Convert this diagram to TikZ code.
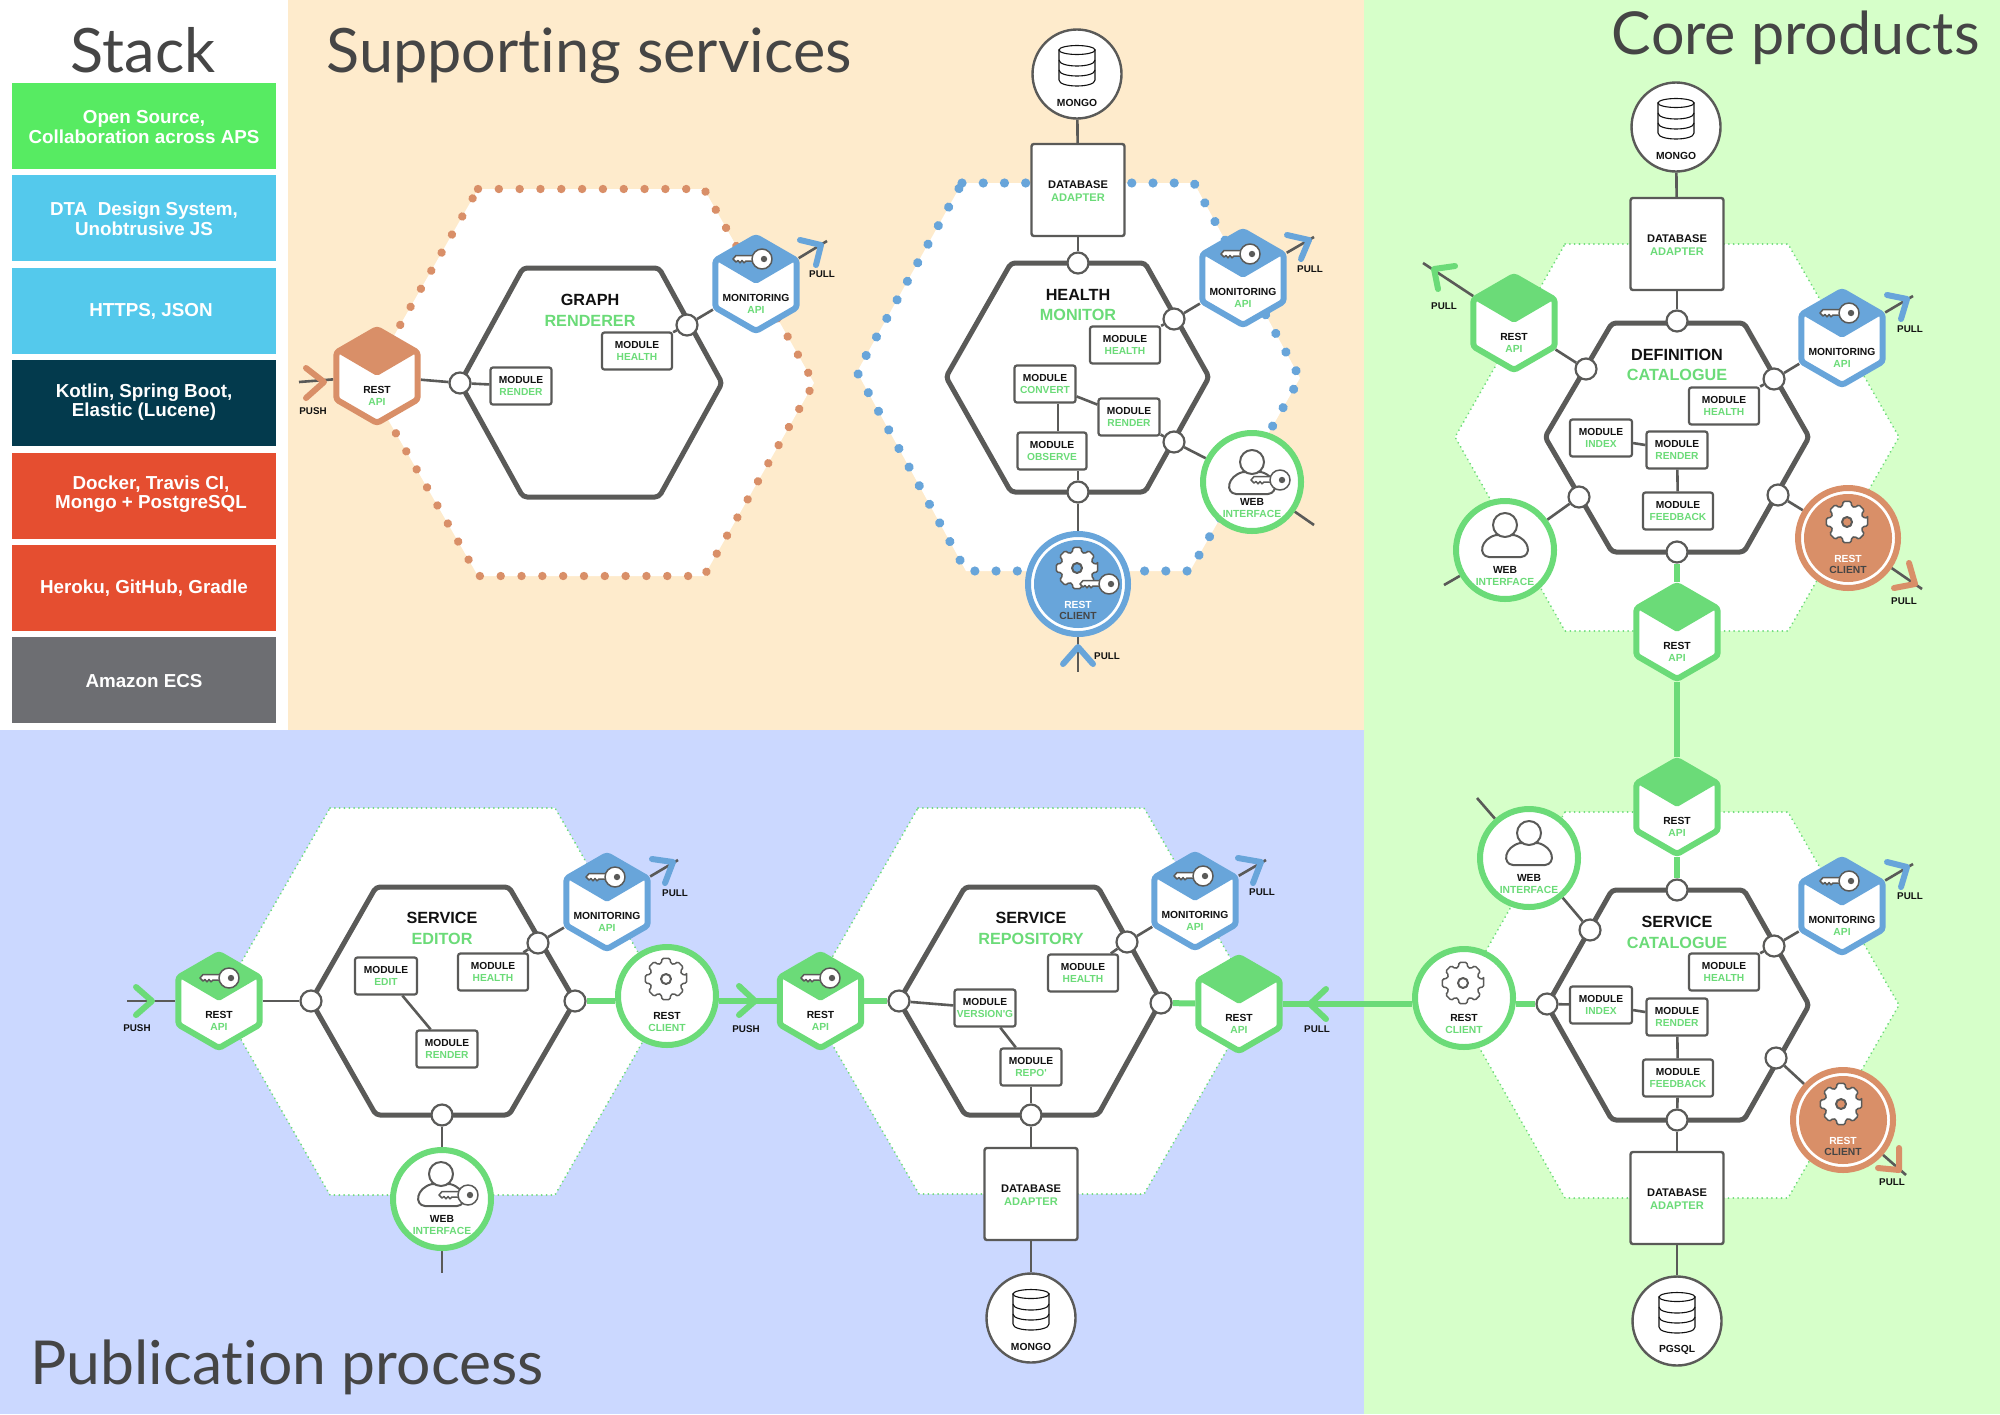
\documentclass[tikz,border=0pt]{standalone}
\usepackage{fontspec}
\setmainfont{Liberation Sans}
\newfontfamily\titlefont[Ligatures=NoCommon]{Lato}
\usetikzlibrary{shapes.geometric}
\definecolor{ink}{HTML}{111111}
\definecolor{wirec}{HTML}{5A5A58}
\definecolor{ttlc}{HTML}{454545}
\definecolor{ngreen}{HTML}{6BDB78}
\definecolor{nblue}{HTML}{68A5DA}
\definecolor{norange}{HTML}{D98F68}
\definecolor{bgorange}{HTML}{FEEBCC}
\definecolor{bggreen}{HTML}{D6FFC9}
\definecolor{bgblue}{HTML}{CBD8FF}
\definecolor{sgreen}{HTML}{57EB62}
\definecolor{sblue}{HTML}{54C9EC}
\definecolor{sdark}{HTML}{033A4D}
\definecolor{sred}{HTML}{E54E30}
\definecolor{sgray}{HTML}{6D6E72}
\pgfdeclarelayer{panel}
\pgfdeclarelayer{conn}
\pgfsetlayers{panel,conn,main}
\tikzset{
  x=0.5pt,y=-0.5pt,
  lbl/.style={font=\bfseries\fontsize{5.15}{5.6}\selectfont,inner sep=0pt,align=center,yshift=-.5pt},
  dblbl/.style={font=\bfseries\fontsize{5.55}{6}\selectfont,inner sep=0pt,align=center,yshift=-.5pt},
  plbl/.style={font=\bfseries\fontsize{4.9}{5.6}\selectfont,inner sep=0pt,text=ink,yshift=-.4pt},
  ttl/.style={font=\titlefont\fontsize{30.6}{32}\selectfont,inner sep=0pt,text=ttlc},
  corettl/.style={font=\bfseries\fontsize{8.1}{9}\selectfont,inner sep=0pt,text=ink,yshift=-.5pt},
  corettg/.style={font=\bfseries\fontsize{8.1}{9}\selectfont,inner sep=0pt,text=ngreen,yshift=-.5pt},
  stackbox/.style={inner sep=0pt,minimum width=132pt,minimum height=43pt,anchor=center},
  stacktxt/.style={font=\bfseries\fontsize{9.4}{9.8}\selectfont,text=white,inner sep=0pt,align=center,yshift=-.5pt},
  corehex/.style={draw=wirec,line width=2.5pt,fill=white,rounded corners=2pt,line join=round},
  outgreen/.style={draw=ngreen,line width=1pt,line cap=round,dash pattern=on 0.01pt off 2.4pt,fill=white},
  outorange/.style={draw=norange,line width=4.2pt,line cap=round,dash pattern=on 0.01pt off 10.4pt,fill=white},
  outblue/.style={draw=nblue,line width=4.6pt,line cap=round,dash pattern=on 0.01pt off 10.6pt,fill=white},
  wire/.style={draw=wirec,line width=1.3pt},
  fat/.style={draw=ngreen,line width=3pt},
  portc/.style={circle,draw=wirec,fill=white,line width=1.1pt,minimum size=10.5pt,inner sep=0pt},
  modbox/.style={draw=wirec,fill=white,line width=1.1pt,rounded corners=1.2pt,inner sep=0pt,minimum height=18.5pt,
    align=center,font=\bfseries\fontsize{5.1}{5.6}\selectfont,text=ink},
  apihex/.style={regular polygon,regular polygon sides=6,shape border rotate=30,minimum size=47pt,inner sep=0pt,
    fill=white,line width=3pt,rounded corners=1.5pt},
  adapterbox/.style={draw=wirec,fill=white,line width=1.2pt,rounded corners=1.2pt,inner sep=0pt,minimum width=46.5pt},
  storec/.style={circle,draw=wirec,fill=white,line width=1.2pt,minimum size=44.5pt,inner sep=0pt},
  ifacec/.style={circle,fill=white,line width=3pt,minimum size=49pt,inner sep=0pt},
  chevron/.style={line width=3pt,line cap=round,line join=round},
  iconline/.style={draw=wirec,line width=.75pt,line join=round},
  dbline/.style={draw=ink,line width=.55pt,fill=white}
}
\newcommand\twolab[6]{%
  \node[lbl,text=ink] (#1-a) at (#2,#3) {#5};
  \node[lbl,text=ngreen] (#1-b) at (#2,#4) {#6};}
\newcommand\hexapi[6]{%
  \node[apihex,draw=#4] (#1) at (#2,#3) {};
  \fill[#4,rounded corners=1pt] ({#2},{#3-48}) -- ({#2+41},{#3-24}) -- ({#2},{#3}) -- ({#2-41},{#3-24}) -- cycle;
  \twolab{#1}{#2}{#3+13}{#3+25}{#5}{#6}}
\newcommand\portnode[3]{\node[portc] (#1) at (#2,#3) {};}
\newcommand\modnode[5]{\node[modbox,minimum width={#4*0.5pt}] (#1) at (#2,#3) {MODULE\\\textcolor{ngreen}{#5}};}
\newcommand\chev[7]{\draw[chevron,draw=#7] (#3,#4) -- (#1,#2) -- (#5,#6);}
\newcommand\dbicon[2]{%
  \begin{scope}[shift={(#1,#2)}]
  \draw[dbline] (-18,-15) -- (-18,15) .. controls (-18,23) and (18,23) .. (18,15) -- (18,-15) -- cycle;
  \draw[dbline] (0,-15) ellipse [x radius=18,y radius=4.5];
  \draw[dbline,fill=none] (-18,-5) .. controls (-18,3) and (18,3) .. (18,-5);
  \draw[dbline,fill=none] (-18,5) .. controls (-18,13) and (18,13) .. (18,5);
  \end{scope}}
\newcommand\storenode[4]{%
  \node[storec] (#1) at (#2,#3) {};
  \dbicon{#2}{#3-9}
  \node[lbl,text=ink] (#1-l) at (#2,#3+28) {#4};}
\newcommand\adapternode[6]{%
  \node[adapterbox,minimum height={#4*0.5pt}] (#1) at (#2,#3) {};
  \node[dblbl,text=ink] (#1-a) at (#2,#5) {DATABASE};
  \node[dblbl,text=ngreen] (#1-b) at (#2,#6) {ADAPTER};}
\newcommand\keyicon[2]{%
  \begin{scope}[shift={(#1,#2)}]
  \draw[iconline,fill=white] (4,-3.5) -- (-17,-3.5) -- (-20,0) -- (-17,3) -- (-15,1.5) -- (-13,3.8) -- (-11,1.5) -- (-9,3.8) -- (-7,2) -- (4,2.5) -- cycle;
  \draw[iconline,fill=white] (9,0) circle [radius=10];
  \fill[wirec] (11,0) circle [radius=3.2];
  \end{scope}}
\newcommand\gearicon[3]{%
  \begin{scope}[shift={(#1,#2)}]
  \draw[iconline,fill=white,rounded corners=.7pt] (-11:21) \foreach \a in {0,45,...,315}{ -- (\a-11:21) -- (\a+11:21) -- (\a+16:16.5) -- (\a+29:16.5)} -- cycle;
  \draw[iconline,line width=1pt,fill=#3] (0,0) circle [radius=5];
  \end{scope}}
\newcommand\usericon[2]{%
  \begin{scope}[shift={(#1,#2)}]
  \draw[iconline,line width=1pt,fill=white] (-16,21) .. controls (-27,20) and (-25,3) .. (-9,-1) -- (9,-1) .. controls (25,3) and (27,20) .. (16,21) -- cycle;
  \draw[iconline,line width=1pt,fill=white] (0,-11) circle [radius=12];
  \end{scope}}
\newcommand\ifacenode[6]{%
  \node[ifacec,draw=ngreen] (#1) at (#2,#3) {};
  \twolab{#1}{#2}{#3+19}{#3+30.5}{#4}{#5}}
\newcommand\clientfilled[4]{%
  \node[ifacec,draw=#4,minimum size=50pt] (#1) at (#2,#3) {};
  \fill[#4] (#2,#3) circle [radius=44];
  \node[lbl,text=white] (#1-a) at (#2,#3+19.5) {REST};
  \node[lbl,text=ttlc] (#1-b) at (#2,#3+31) {CLIENT};}
\begin{document}
\begin{tikzpicture}
\useasboundingbox (0,0) rectangle (2000,1414);
\begin{pgfonlayer}{panel}
  \fill[white] (0,0) rectangle (288,730);
  \fill[bgorange] (288,0) rectangle (1364,730);
  \fill[bggreen] (1364,0) rectangle (2000,1414);
  \fill[bgblue] (0,730) rectangle (1364,1414);
  % graph renderer
  \draw[outorange] (478,189) -- (704,189) -- (814,383) -- (704,576) -- (478,576) -- (367,383) -- cycle;
  \draw[corehex] (523,268) -- (659,268) -- (722,383) -- (659,497) -- (523,497) -- (460,383) -- cycle;
  % health monitor
  \draw[outblue] (962,183) -- (1194,183) -- (1300,378) -- (1190,571) -- (966,571) -- (857,372) -- cycle;
  \draw[corehex] (1011,263) -- (1145,263) -- (1209,377) -- (1145,492) -- (1011,492) -- (946,377) -- cycle;
  % definition catalogue
  \draw[outgreen] (1565,244) -- (1788,244) -- (1899,437) -- (1788,631) -- (1565,631) -- (1455,437) -- cycle;
  \draw[corehex] (1612,323) -- (1744,323) -- (1809,437) -- (1744,552) -- (1612,552) -- (1545,437) -- cycle;
  % service catalogue
  \draw[outgreen] (1565,812) -- (1788,812) -- (1899,1005) -- (1788,1198) -- (1565,1198) -- (1455,1005) -- cycle;
  \draw[corehex] (1612,890) -- (1744,890) -- (1809,1005) -- (1744,1120) -- (1612,1120) -- (1547,1005) -- cycle;
  % service editor
  \draw[outgreen] (330,808) -- (555,808) -- (666,1001) -- (555,1195) -- (330,1195) -- (219,1001) -- cycle;
  \draw[corehex] (376,887) -- (509,887) -- (575,1001) -- (509,1115) -- (376,1115) -- (311,1001) -- cycle;
  % service repository
  \draw[outgreen] (918,808) -- (1144,808) -- (1255,1001) -- (1144,1194) -- (919,1194) -- (807,1001) -- cycle;
  \draw[corehex] (965,887) -- (1098,887) -- (1161,1001) -- (1098,1115) -- (965,1115) -- (899,1001) -- cycle;
\end{pgfonlayer}

% titles
\node[ttl] (t-stack) at (143,50) {Stack};
\node[ttl,anchor=west] (t-sup) at (326,56) {Supporting services};
\node[ttl,anchor=east,font=\titlefont\fontsize{29.6}{32}\selectfont] (t-core) at (1980,38) {Core products};
\node[ttl,anchor=west,font=\titlefont\fontsize{30.3}{32}\selectfont] (t-pub) at (30,1367) {Publication process};

% stack
\node[stackbox,fill=sgreen] (sb1) at (144,126) {};
\node[stackbox,fill=sblue] (sb2) at (144,218) {};
\node[stackbox,fill=sblue] (sb3) at (144,311) {};
\node[stackbox,fill=sdark] (sb4) at (144,403) {};
\node[stackbox,fill=sred] (sb5) at (144,495.5) {};
\node[stackbox,fill=sred] (sb6) at (144,588) {};
\node[stackbox,fill=sgray] (sb7) at (144,680) {};
\node[stacktxt] (st1) at (144,126) {Open Source,\\Collaboration across APS};
\node[stacktxt] (st2) at (144,218) {DTA\ \ Design System,\\Unobtrusive JS};
\node[stacktxt] (st3) at (151,310) {HTTPS, JSON};
\node[stacktxt] (st4) at (144,401) {Kotlin, Spring Boot,\\Elastic (Lucene)};
\node[stacktxt] (st5) at (151,493) {Docker, Travis CI,\\Mongo + PostgreSQL};
\node[stacktxt] (st6) at (144,587) {Heroku, GitHub, Gradle};
\node[stacktxt] (st7) at (144,680) {Amazon ECS};

% ---- graph renderer
\node[corettl] (g-t1) at (590,299) {GRAPH};
\node[corettg] (g-t2) at (590,320) {RENDERER};
\hexapi{g-api}{377}{376}{norange}{REST}{API}
\hexapi{g-mon}{756}{284}{nblue}{MONITORING}{API}
\keyicon{753}{259}
\portnode{g-p1}{460}{383}
\portnode{g-p2}{687}{325}
\modnode{g-render}{521}{386}{61}{RENDER}
\modnode{g-health}{637}{351}{70}{HEALTH}
\coordinate (g-push) at (299,382);
\coordinate (g-pull) at (827,241);
\chev{324}{382}{306}{368}{306}{398}{norange}
\chev{821}{245}{800}{240}{816}{265}{nblue}
\node[plbl] (g-l1) at (313,410) {PUSH};
\node[plbl] (g-l2) at (822,273) {PULL};

% ---- health monitor
\node[corettl] (h-t1) at (1078,294) {HEALTH};
\node[corettg] (h-t2) at (1078,314) {MONITOR};
\storenode{h-db}{1077}{74}{MONGO}
\adapternode{h-ad}{1078}{190}{92}{184}{197}
\portnode{h-p1}{1078}{263}
\portnode{h-p2}{1174}{319}
\portnode{h-p3}{1174}{442}
\portnode{h-p4}{1078}{492}
\modnode{h-health}{1125}{345}{70}{HEALTH}
\modnode{h-convert}{1045}{384}{61}{CONVERT}
\modnode{h-render}{1129}{417}{61}{RENDER}
\modnode{h-observe}{1052}{451}{69}{OBSERVE}
\hexapi{h-mon}{1243}{278}{nblue}{MONITORING}{API}
\keyicon{1241}{254}
\ifacenode{h-web}{1252}{482}{WEB}{INTERFACE}{}
\usericon{1252}{473}
\keyicon{1271}{480}
\clientfilled{h-cli}{1078}{584}{nblue}
\gearicon{1077}{568}{nblue}
\keyicon{1100}{584}
\coordinate (h-pull1) at (1314,237);
\coordinate (h-free) at (1314,525);
\coordinate (h-pull2) at (1078,672);
\chev{1309}{240}{1287}{235}{1301}{259}{nblue}
\chev{1078}{647}{1063}{664}{1093}{664}{nblue}
\node[plbl] (h-l1) at (1310,268) {PULL};
\node[plbl] (h-l2) at (1107,655) {PULL};

% ---- definition catalogue
\node[corettl] (d-t1) at (1677,354) {DEFINITION};
\node[corettg] (d-t2) at (1677,374) {CATALOGUE};
\storenode{d-db}{1676}{127}{MONGO}
\adapternode{d-ad}{1677}{244}{92}{238}{251}
\portnode{d-p1}{1677}{321}
\portnode{d-p2}{1586}{369}
\portnode{d-p3}{1774}{379}
\portnode{d-p4}{1778}{495}
\portnode{d-p5}{1579}{497}
\portnode{d-p6}{1677}{552}
\modnode{d-health}{1724}{406}{70}{HEALTH}
\modnode{d-index}{1601}{438}{62}{INDEX}
\modnode{d-render}{1677}{450}{61}{RENDER}
\modnode{d-feed}{1678}{511}{70}{FEEDBACK}
\hexapi{d-api}{1514}{323}{ngreen}{REST}{API}
\hexapi{d-mon}{1842}{338}{nblue}{MONITORING}{API}
\keyicon{1840}{313}
\ifacenode{d-web}{1505}{550}{WEB}{INTERFACE}{}
\usericon{1505}{536}
\clientfilled{d-cli}{1848}{538}{norange}
\gearicon{1847}{522}{norange}
\hexapi{d-api2}{1677}{632}{ngreen}{REST}{API}
\coordinate (d-pull1) at (1423,263);
\coordinate (d-pull2) at (1913,296);
\coordinate (d-pull3) at (1922,589);
\coordinate (d-free) at (1444,585);
\chev{1434}{269}{1455}{266}{1438}{289}{ngreen}
\chev{1907}{299}{1887}{295}{1901}{319}{nblue}
\chev{1915}{584}{1909}{563}{1894}{588}{norange}
\node[plbl] (d-l1) at (1444,305) {PULL};
\node[plbl] (d-l2) at (1910,328) {PULL};
\node[plbl] (d-l3) at (1904,600) {PULL};

% ---- service catalogue
\node[corettl] (s-t1) at (1677,921) {SERVICE};
\node[corettg] (s-t2) at (1677,942) {CATALOGUE};
\hexapi{s-api}{1677}{807}{ngreen}{REST}{API}
\portnode{s-p1}{1677}{890}
\portnode{s-p2}{1590}{930}
\portnode{s-p3}{1774}{946}
\portnode{s-p4}{1547}{1004}
\portnode{s-p5}{1776}{1058}
\portnode{s-p6}{1677}{1120}
\modnode{s-health}{1724}{972}{70}{HEALTH}
\modnode{s-index}{1601}{1005}{62}{INDEX}
\modnode{s-render}{1677}{1017}{61}{RENDER}
\modnode{s-feed}{1678}{1078}{70}{FEEDBACK}
\hexapi{s-mon}{1842}{906}{nblue}{MONITORING}{API}
\keyicon{1840}{881}
\ifacenode{s-web}{1529}{858}{WEB}{INTERFACE}{}
\usericon{1529}{844}
\ifacenode{s-cli}{1464}{998}{REST}{CLIENT}{}
\gearicon{1463}{983}{white}
\clientfilled{s-cli2}{1843}{1120}{norange}
\gearicon{1841}{1104}{norange}
\adapternode{s-ad}{1677}{1198}{92}{1192}{1205}
\storenode{s-db}{1677}{1321}{PGSQL}
\coordinate (s-free) at (1477,798);
\coordinate (s-pull1) at (1913,864);
\coordinate (s-pull2) at (1906,1175);
\chev{1907}{867}{1887}{862}{1901}{887}{nblue}
\chev{1899}{1170}{1899}{1148}{1878}{1168}{norange}
\node[plbl] (s-l1) at (1910,895) {PULL};
\node[plbl] (s-l2) at (1892,1181) {PULL};

% ---- service editor
\node[corettl] (e-t1) at (442,917) {SERVICE};
\node[corettg] (e-t2) at (442,938) {EDITOR};
\hexapi{e-api}{219}{1001}{ngreen}{REST}{API}
\keyicon{220}{978}
\portnode{e-p1}{311}{1001}
\portnode{e-p2}{575}{1001}
\portnode{e-p3}{538}{943}
\portnode{e-p4}{442}{1115}
\modnode{e-edit}{386}{976}{62}{EDIT}
\modnode{e-health}{493}{972}{70}{HEALTH}
\modnode{e-render}{447}{1049}{61}{RENDER}
\hexapi{e-mon}{607}{902}{nblue}{MONITORING}{API}
\keyicon{606}{877}
\ifacenode{e-cli}{667}{996}{REST}{CLIENT}{}
\gearicon{666}{979}{white}
\ifacenode{e-web}{442}{1199}{WEB}{INTERFACE}{}
\usericon{441}{1185}
\keyicon{459}{1195}
\coordinate (e-push) at (127,1001);
\coordinate (e-pull) at (678,860);
\coordinate (e-free) at (442,1273);
\chev{152}{1001}{136}{987}{136}{1015}{ngreen}
\chev{673}{862}{652}{859}{665}{883}{nblue}
\node[plbl] (e-l1) at (137,1027) {PUSH};
\node[plbl] (e-l2) at (675,892) {PULL};

% ---- service repository
\node[corettl] (r-t1) at (1031,917) {SERVICE};
\node[corettg] (r-t2) at (1031,938) {REPOSITORY};
\hexapi{r-api}{820.5}{1001}{ngreen}{REST}{API}
\keyicon{821}{978}
\hexapi{r-api2}{1239}{1004}{ngreen}{REST}{API}
\hexapi{r-mon}{1195}{901}{nblue}{MONITORING}{API}
\keyicon{1194}{876}
\portnode{r-p1}{899}{1001}
\portnode{r-p2}{1161}{1003}
\portnode{r-p3}{1127}{942}
\portnode{r-p4}{1031}{1115}
\modnode{r-health}{1083}{973}{70}{HEALTH}
\modnode{r-vers}{985}{1008}{61}{VERSION\textquotesingle G}
\modnode{r-repo}{1031}{1067}{61}{REPO\textquotesingle}
\adapternode{r-ad}{1031}{1194}{92}{1188}{1201}
\storenode{r-db}{1031}{1318}{MONGO}
\coordinate (r-pull) at (1266,860);
\chev{755}{1001}{739}{986}{739}{1015}{ngreen}
\chev{1261}{862}{1238}{858}{1253}{883}{nblue}
\chev{1310}{1004}{1326}{989}{1326}{1019}{ngreen}
\node[plbl] (r-l1) at (746,1028) {PUSH};
\node[plbl] (r-l2) at (1262,891) {PULL};
\node[plbl] (r-l3) at (1317,1028) {PULL};

% ---- connectors
\begin{pgfonlayer}{conn}
  % graph renderer
  \draw[wire] (g-push) -- (g-api);
  \draw[wire] (g-api) -- (g-p1);
  \draw[wire] (g-p1) -- (g-render);
  \draw[wire] (g-health) -- (g-p2);
  \draw[wire] (g-p2) -- (g-mon);
  \draw[wire] (g-mon) -- (g-pull);
  % health monitor
  \draw[wire] (h-db) -- (h-ad);
  \draw[wire] (h-ad) -- (h-p1);
  \draw[wire] (h-health) -- (h-p2);
  \draw[wire] (h-p2) -- (h-mon);
  \draw[wire] (h-mon) -- (h-pull1);
  \draw[wire] (h-convert) -- (h-render);
  \draw[wire] ([xshift=3pt]h-observe.north) -- ([xshift=3pt]h-observe.north |- h-convert.south);
  \draw[wire] (h-render) -- (h-p3);
  \draw[wire] (h-p3) -- (h-web);
  \draw[wire] (h-web) -- (h-free);
  \draw[wire] (h-p4.north) -- (h-p4.north |- h-observe.south);
  \draw[wire] (h-p4) -- (h-cli);
  \draw[wire] (h-cli) -- (h-pull2);
  % definition catalogue
  \draw[wire] (d-db) -- (d-ad);
  \draw[wire] (d-ad) -- (d-p1);
  \draw[wire] (d-p2) -- (d-api);
  \draw[wire] (d-api) -- (d-pull1);
  \draw[wire] (d-health) -- (d-p3);
  \draw[wire] (d-p3) -- (d-mon);
  \draw[wire] (d-mon) -- (d-pull2);
  \draw[wire] (d-p4) -- (d-cli);
  \draw[wire] (d-cli) -- (d-pull3);
  \draw[wire] (d-p5) -- (d-web);
  \draw[wire] (d-web) -- (d-free);
  \draw[wire] (d-index) -- (d-render);
  \draw[wire] (d-render) -- (d-feed);
  \draw[fat] (d-p6) -- (d-api2);
  \draw[fat] (d-api2) -- (s-api);
  % service catalogue
  \draw[fat] (s-api) -- (s-p1);
  \draw[wire] (s-p2) -- (s-web);
  \draw[wire] (s-web) -- (s-free);
  \draw[wire] (s-health) -- (s-p3);
  \draw[wire] (s-p3) -- (s-mon);
  \draw[wire] (s-mon) -- (s-pull1);
  \draw[wire] (s-p4) -- (s-index);
  \draw[wire] (s-index) -- (s-render);
  \draw[wire] (s-render) -- (s-feed);
  \draw[wire] (s-feed) -- (s-p6);
  \draw[wire] (s-p6) -- (s-ad);
  \draw[wire] (s-ad) -- (s-db);
  \draw[wire] (s-p5) -- (s-cli2);
  \draw[wire] (s-cli2) -- (s-pull2);
  \draw[fat] (s-p4) -- (s-p4 -| s-cli.east);
  % service editor
  \draw[wire] (e-push) -- (e-api);
  \draw[wire] (e-api) -- (e-p1);
  \draw[wire] (e-edit) -- (e-render);
  \draw[wire] (e-health) -- (e-p3);
  \draw[wire] (e-p3) -- (e-mon);
  \draw[wire] (e-mon) -- (e-pull);
  \draw[fat] (e-p2) -- (e-p2 -| e-cli.west);
  \draw[fat] (r-api.west) -- (r-api.west -| e-cli.east);
  \draw[wire] (e-p4) -- (e-web);
  \draw[wire] (e-web) -- (e-free);
  % service repository
  \draw[fat] (r-api) -- (r-p1);
  \draw[wire] (r-p1) -- (r-vers);
  \draw[wire] (r-vers) -- (r-repo);
  \draw[wire] (r-repo) -- (r-p4);
  \draw[wire] (r-p4) -- (r-ad);
  \draw[wire] (r-ad) -- (r-db);
  \draw[wire] (r-health) -- (r-p3);
  \draw[wire] (r-p3) -- (r-mon);
  \draw[wire] (r-mon) -- (r-pull);
  \draw[fat] (r-p2) -- (r-api2);
  \draw[fat] (r-api2.east) -- (r-api2.east -| s-cli.west);
\end{pgfonlayer}
\end{tikzpicture}
\end{document}
